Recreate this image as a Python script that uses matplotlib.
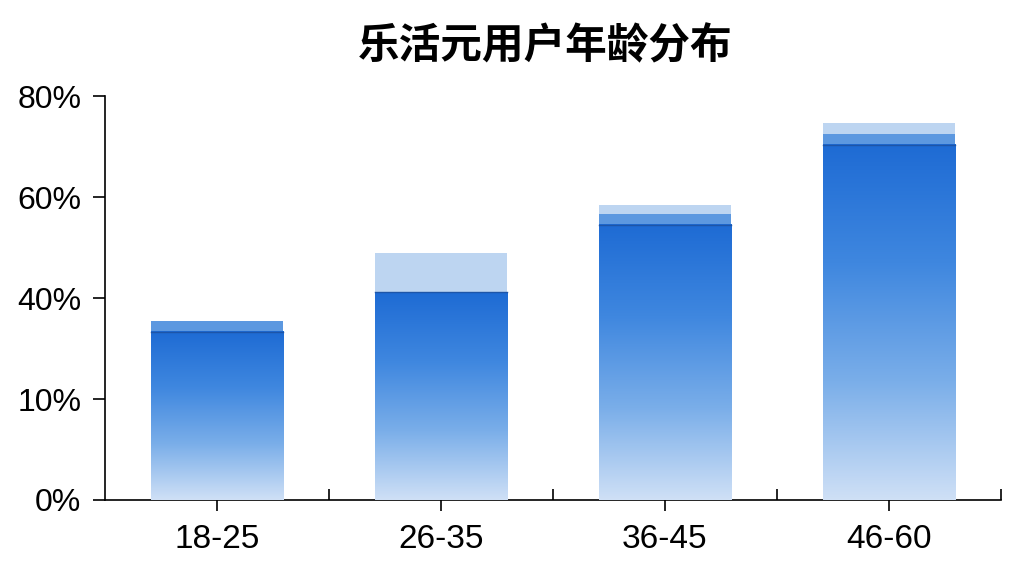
import numpy as np
import matplotlib.pyplot as plt
from matplotlib.colors import LinearSegmentedColormap
from matplotlib.ticker import FixedLocator

plt.rcParams['font.family'] = ['Liberation Sans', 'DejaVu Sans']

# age groups and bar layers (percent)
ages = ["18-25", "26-35", "36-45", "46-60"]
base = [33.3, 41.2, 54.5, 70.4]   # gradient part
band = [35.4, 41.2, 56.6, 72.6]   # mid-blue band top
cap = [35.4, 49.0, 58.4, 74.6]    # pale cap top
ytick_vals = [0, 20, 40, 60, 80]
ytick_labels = ["0%", "10%", "40%", "60%", "80%"]

fig = plt.figure(figsize=(10.24, 5.76), dpi=100)
ax = fig.add_axes([0.1025, 0.132, 0.875, 0.701])

x = np.arange(len(ages))
w = 0.59

ax.bar(x, cap, width=w, color="#bdd5f1", zorder=2)
ax.bar(x, band, width=w, color="#5c98e0", zorder=3)

cmap = LinearSegmentedColormap.from_list("blu", ["#cfe0f6", "#7aaee9", "#3f87df", "#1e6bd4"])
grad = np.linspace(0, 1, 256).reshape(-1, 1)
for xi, h in zip(x, base):
    ax.imshow(grad, cmap=cmap, aspect="auto", origin="lower",
              extent=(xi - w / 2, xi + w / 2, 0, h), zorder=4)
    ax.plot([xi - w / 2, xi + w / 2], [h, h], color="#1d55a8", lw=1.0, zorder=5)

ax.set_xlim(-0.5, 3.5)
ax.set_ylim(0, 80)
ax.set_xticks(x)
ax.set_xticklabels(ages, fontsize=24)
ax.xaxis.set_minor_locator(FixedLocator([0.5, 1.5, 2.5, 3.5]))
ax.tick_params(axis="x", which="major", length=8, width=1.2, pad=9)
ax.tick_params(axis="x", which="minor", direction="in", length=8, width=1.2)
ax.set_yticks(ytick_vals)
ax.set_yticklabels(ytick_labels, fontsize=23)
ax.tick_params(axis="y", length=9, width=1.2, pad=8)

for s in ["top", "right"]:
    ax.spines[s].set_visible(False)
for s in ["left", "bottom"]:
    ax.spines[s].set_linewidth(1.2)

fig.text(545 / 1024, 1 - 46 / 576, "乐活元用户年龄分布", ha="center", va="center",
         fontsize=30, fontweight="bold", family=["Noto Sans CJK SC", "DejaVu Sans"])

fig.savefig("out.png", dpi=100)
